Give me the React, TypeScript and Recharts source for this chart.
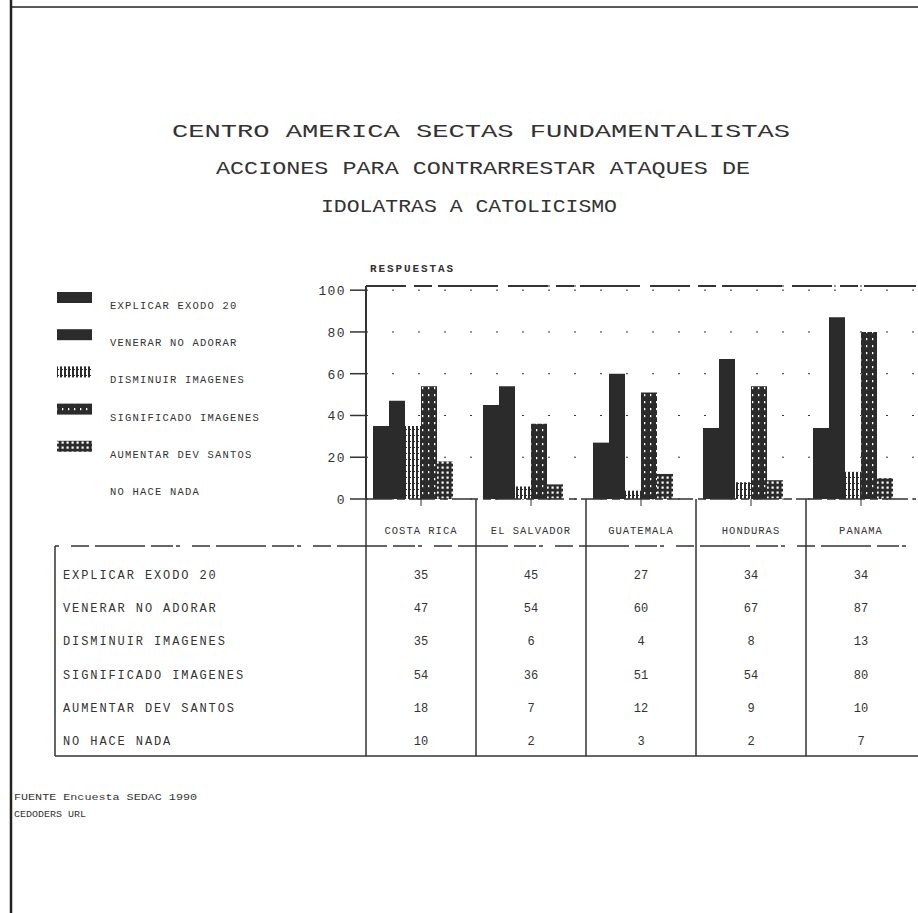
import React from "react";
import { BarChart, Bar, XAxis, YAxis, CartesianGrid, ReferenceLine } from "recharts";

const countries = ["COSTA RICA", "EL SALVADOR", "GUATEMALA", "HONDURAS", "PANAMA"];
const explicarExodo = [35, 45, 27, 34, 34];
const venerarNoAdorar = [47, 54, 60, 67, 87];
const disminuirImagenes = [35, 6, 4, 8, 13];
const significadoImagenes = [54, 36, 51, 54, 80];
const aumentarDevSantos = [18, 7, 12, 9, 10];
const noHaceNada = [10, 2, 3, 2, 7];
const yTicks = [0, 20, 40, 60, 80, 100];

const titleLines = [
  "CENTRO AMERICA  SECTAS FUNDAMENTALISTAS",
  "ACCIONES PARA CONTRARRESTAR ATAQUES DE",
  "IDOLATRAS A CATOLICISMO",
];

const series = [
  { key: "explicar", name: "EXPLICAR EXODO 20", values: explicarExodo, fill: "#2b2b2b" },
  { key: "venerar", name: "VENERAR NO ADORAR", values: venerarNoAdorar, fill: "#2b2b2b" },
  { key: "disminuir", name: "DISMINUIR IMAGENES", values: disminuirImagenes, fill: "url(#pStripes)" },
  { key: "significado", name: "SIGNIFICADO IMAGENES", values: significadoImagenes, fill: "url(#pDots)" },
  { key: "aumentar", name: "AUMENTAR DEV SANTOS", values: aumentarDevSantos, fill: "url(#pGrid)" },
  { key: "nada", name: "NO HACE NADA", values: noHaceNada, fill: "none" },
];

const data = countries.map((c, i) => {
  const row: Record<string, string | number> = { country: c };
  series.forEach((s) => (row[s.key] = s.values[i]));
  return row;
});

const INK = "#333";
const MONO = "'Liberation Mono', 'DejaVu Sans Mono', monospace";

// layout
const W = 918;
const H = 913;
const PLOT_LEFT = 366;
const PLOT_TOP = 286;
const PLOT_BOTTOM = 499;
const BAND = (W - 2 - PLOT_LEFT) / countries.length;
const TABLE_LEFT = 55;
const HEADER_LINE = 546;
const ROW0 = 575;
const ROW_STEP = 33.2;
const TABLE_BOTTOM = 756;

const XTick = ({ x, y, payload }: any) => (
  <text x={x} y={y + 26} textAnchor="middle" fontFamily={MONO} fontSize={10.5}
    fill={INK} style={{ letterSpacing: "1px" }}>
    {payload.value}
  </text>
);

const YTick = ({ x, y, payload }: any) => (
  <text x={x} y={y + 5} textAnchor="end" fontFamily={MONO} fontSize={13}
    fill={INK} style={{ letterSpacing: "1.4px" }}>
    {payload.value}
  </text>
);

export default function App() {
  return (
    <div style={{ position: "absolute", left: 0, top: 0, width: W, height: H, background: "#fff", overflow: "hidden" }}>
      <div style={{ position: "absolute", left: 0, top: 0 }}>
        <BarChart
          width={W}
          height={H}
          data={data}
          margin={{ top: PLOT_TOP, right: 2, left: PLOT_LEFT - 50, bottom: H - PLOT_BOTTOM - 50 }}
          barCategoryGap={7}
          barGap={0}
        >
          <CartesianGrid vertical={false} stroke={INK} strokeDasharray="2 24" />
          <XAxis
            dataKey="country"
            height={50}
            tickSize={7}
            tickMargin={2}
            axisLine={{ stroke: INK, strokeWidth: 1.5, strokeDasharray: "26 5 8 4" }}
            tickLine={{ stroke: INK }}
            tick={<XTick />}
          />
          <YAxis
            width={50}
            domain={[0, 102]}
            ticks={yTicks}
            tickSize={16}
            tickMargin={4}
            axisLine={{ stroke: INK, strokeWidth: 2 }}
            tickLine={{ stroke: INK, strokeWidth: 1.5 }}
            tick={<YTick />}
          />
          <ReferenceLine y={102} stroke={INK} strokeWidth={2} strokeDasharray="40 8 18 6 60 10" />
          {series.map((s) => (
            <Bar key={s.key} dataKey={s.key} name={s.name} fill={s.fill} isAnimationActive={false} />
          ))}
        </BarChart>
      </div>

      <svg width={W} height={H} style={{ position: "absolute", left: 0, top: 0, pointerEvents: "none" }}>
        <defs>
          <pattern id="pStripes" width="4" height="6" patternUnits="userSpaceOnUse">
            <rect width="4" height="6" fill="#fff" />
            <rect x="0" width="2" height="6" fill="#2b2b2b" />
            <rect x="2" y="3" width="1" height="1" fill="#2b2b2b" />
          </pattern>
          <pattern id="pDots" width="6" height="7" patternUnits="userSpaceOnUse">
            <rect width="6" height="7" fill="#2b2b2b" />
            <rect x="2" y="2" width="1.3" height="2.2" fill="#fff" />
          </pattern>
          <pattern id="pGrid" width="5" height="5" patternUnits="userSpaceOnUse">
            <rect width="5" height="5" fill="#2b2b2b" />
            <rect x="1.5" y="1.5" width="2.2" height="2.2" fill="#fff" />
          </pattern>
        </defs>

        {/* marco de la hoja */}
        <line x1={11} y1={0} x2={11} y2={H} stroke="#222" strokeWidth={2.5} />
        <line x1={11} y1={7} x2={W} y2={7} stroke="#222" strokeWidth={1.5} />

        {/* titulo */}
        <g fontFamily={MONO} fontSize={19} fill={INK} style={{ whiteSpace: "pre" }}>
          <text x={481} y={137} textAnchor="middle" textLength={618} lengthAdjust="spacingAndGlyphs">{titleLines[0]}</text>
          <text x={483} y={174} textAnchor="middle" textLength={534} lengthAdjust="spacingAndGlyphs">{titleLines[1]}</text>
          <text x={469} y={212} textAnchor="middle" textLength={296} lengthAdjust="spacingAndGlyphs">{titleLines[2]}</text>
        </g>

        <text x={370} y={272} fontFamily={MONO} fontSize={11} fontWeight="bold" fill={INK}
          style={{ letterSpacing: "1.9px" }}>RESPUESTAS</text>

        {/* leyenda */}
        {series.map((s, i) => {
          const cy = 305 + i * 37.2;
          return (
            <g key={s.key}>
              {s.fill !== "none" && <rect x={57} y={cy - 13} width={35} height={11} fill={s.fill} />}
              <text x={110} y={cy + 4} fontFamily={MONO} fontSize={10.5} fill={INK}
                style={{ letterSpacing: "1.2px" }}>{s.name}</text>
            </g>
          );
        })}

        {/* tabla */}
        <line x1={TABLE_LEFT} y1={HEADER_LINE} x2={W} y2={HEADER_LINE} stroke={INK} strokeWidth={1.5}
          strokeDasharray="4 12 18 6 50 6 22 3" />
        <line x1={TABLE_LEFT} y1={HEADER_LINE} x2={TABLE_LEFT} y2={TABLE_BOTTOM} stroke={INK} strokeWidth={1.5} />
        <line x1={TABLE_LEFT} y1={TABLE_BOTTOM} x2={W} y2={TABLE_BOTTOM} stroke={INK} strokeWidth={1.5} />
        {countries.map((c, i) => (
          <line key={c} x1={PLOT_LEFT + i * BAND} y1={PLOT_BOTTOM} x2={PLOT_LEFT + i * BAND} y2={TABLE_BOTTOM}
            stroke={INK} strokeWidth={1.5} />
        ))}
        {series.map((s, r) => {
          const y = ROW0 + r * ROW_STEP + 4;
          return (
            <g key={s.key} fontFamily={MONO} fill={INK}>
              <text x={63} y={y} fontSize={12} style={{ letterSpacing: "1.9px" }}>{s.name}</text>
              {s.values.map((v, i) => (
                <text key={i} x={PLOT_LEFT + i * BAND + BAND / 2} y={y} fontSize={12} textAnchor="middle">{v}</text>
              ))}
            </g>
          );
        })}

        {/* fuente */}
        <g fontFamily={MONO} fontSize={8.5} fill={INK} style={{ whiteSpace: "pre" }}>
          <text x={14} y={800} textLength={183} lengthAdjust="spacingAndGlyphs">FUENTE  Encuesta SEDAC 1990</text>
          <text x={14} y={817} textLength={72} lengthAdjust="spacingAndGlyphs">CEDODERS URL</text>
        </g>
      </svg>
    </div>
  );
}
